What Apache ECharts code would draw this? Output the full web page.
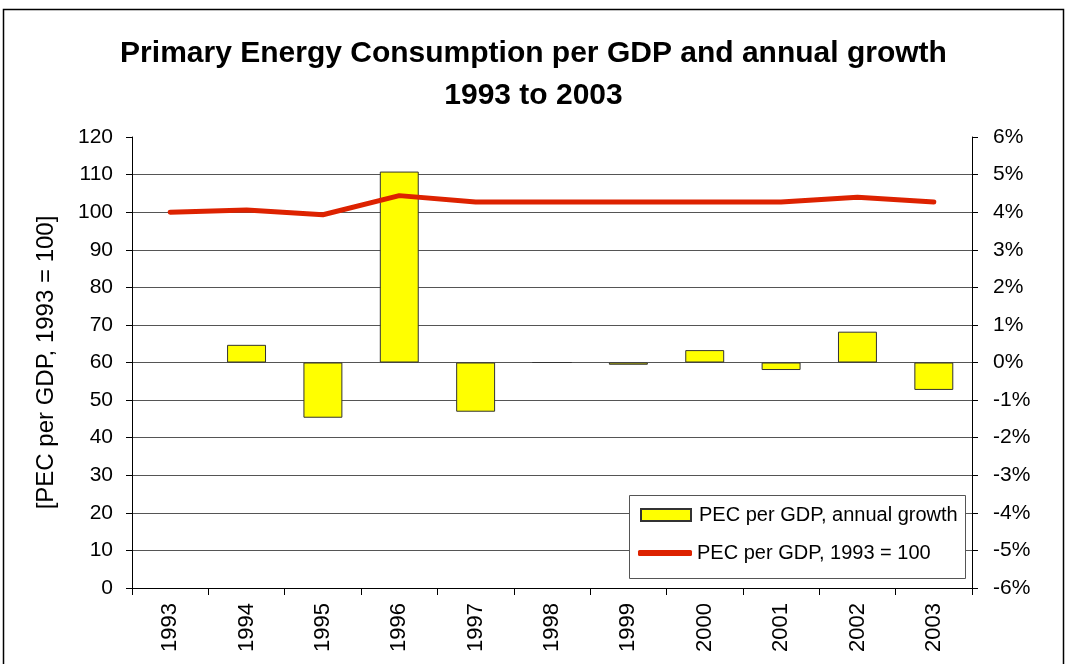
<!DOCTYPE html>
<html>
<head>
<meta charset="UTF-8">
<title>PEC per GDP</title>
<script src="https://cdn.jsdelivr.net/npm/echarts@6/dist/echarts.min.js"></script>
<style>
  html, body { margin: 0; padding: 0; background: #fff; }
  #main { width: 1067px; height: 664px; }
</style>
</head>
<body>
<div id="main"></div>
<script>
// 数据
var years = ['1993', '1994', '1995', '1996', '1997', '1998', '1999', '2000', '2001', '2002', '2003'];
var growthPct = [null, 0.47, -1.47, 5.08, -1.31, 0, -0.06, 0.33, -0.2, 0.82, -0.73]; // annual growth, %
var indexValues = [100, 100.6, 99.3, 104.4, 102.7, 102.7, 102.7, 102.7, 102.7, 104.0, 102.7]; // 1993 = 100

var barName = 'PEC per GDP, annual growth';
var lineName = 'PEC per GDP, 1993 = 100';
var font = '"Liberation Sans", Arial, sans-serif';

var chart = echarts.init(document.getElementById('main'));

var option = {
  backgroundColor: '#fff',
  animation: false,
  textStyle: { fontFamily: font, color: '#000' },
  title: {
    text: 'Primary Energy Consumption per GDP and annual growth\n1993 to 2003',
    left: 'center',
    top: 28,
    textStyle: { fontFamily: font, fontSize: 30, fontWeight: 'bold', color: '#000', lineHeight: 42 }
  },
  // 外框 + 图例框
  graphic: [
    { type: 'rect', shape: { x: 3.5, y: 9.5, width: 1060, height: 700 }, style: { fill: null, stroke: '#000', lineWidth: 1.5 }, silent: true },
    { type: 'rect', shape: { x: 629.5, y: 495.5, width: 336, height: 83 }, style: { fill: '#fff', stroke: '#555', lineWidth: 1 }, z: 10, silent: true }
  ],
  legend: [
    {
      data: [{ name: barName, icon: 'rect' }],
      left: 640, top: 505, padding: 0, itemWidth: 50, itemHeight: 12, z: 20,
      textStyle: { fontFamily: font, fontSize: 20, color: '#000', padding: [0, 0, 0, 3] }
    },
    {
      data: [{ name: lineName, icon: 'roundRect' }],
      left: 638, top: 543, padding: 0, itemWidth: 54, itemHeight: 6, z: 20,
      textStyle: { fontFamily: font, fontSize: 20, color: '#000', padding: [0, 0, 0, 0] }
    }
  ],
  grid: { left: 132, right: 95, top: 137, bottom: 76 },
  xAxis: {
    type: 'category',
    data: years,
    boundaryGap: true,
    axisLine: { lineStyle: { color: '#000', width: 1 } },
    axisTick: { show: true, length: 7, lineStyle: { color: '#000' } },
    axisLabel: { rotate: 90, margin: 15, fontSize: 22, color: '#000', fontFamily: font }
  },
  yAxis: [
    {
      type: 'value',
      min: 0, max: 120, interval: 10,
      name: '[PEC per GDP, 1993 = 100]',
      nameLocation: 'middle',
      nameGap: 74,
      nameTextStyle: { fontFamily: font, fontSize: 24, color: '#000' },
      axisLine: { show: true, lineStyle: { color: '#000' } },
      axisTick: { show: true, length: 6, lineStyle: { color: '#000' } },
      axisLabel: { fontSize: 21, color: '#000', margin: 19, fontFamily: font },
      splitLine: { show: true, showMaxLine: false, lineStyle: { color: '#555', width: 1 } }
    },
    {
      type: 'value',
      position: 'right',
      min: -6, max: 6, interval: 1,
      axisLine: { show: true, lineStyle: { color: '#000' } },
      axisTick: { show: true, length: 6, lineStyle: { color: '#000' } },
      axisLabel: { fontSize: 21, color: '#000', margin: 21, formatter: '{value}%', fontFamily: font },
      splitLine: { show: false }
    }
  ],
  series: [
    {
      name: barName,
      type: 'bar',
      yAxisIndex: 1,
      data: growthPct,
      barCategoryGap: '49%',
      itemStyle: { color: '#ffff00', borderColor: '#333', borderWidth: 1 },
      z: 2
    },
    {
      name: lineName,
      type: 'line',
      yAxisIndex: 0,
      data: indexValues,
      symbol: 'none',
      lineStyle: { color: '#dd2200', width: 5, cap: 'round', join: 'round' },
      itemStyle: { color: '#dd2200' },
      z: 3
    }
  ]
};

chart.setOption(option);
</script>
</body>
</html>
